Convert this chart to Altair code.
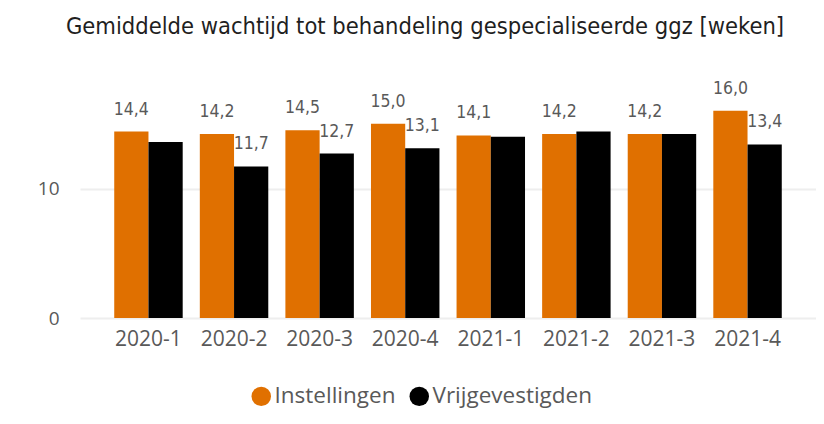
import altair as alt
import pandas as pd

periods = ["2020-1", "2020-2", "2020-3", "2020-4", "2021-1", "2021-2", "2021-3", "2021-4"]
instellingen = [14.4, 14.2, 14.5, 15.0, 14.1, 14.2, 14.2, 16.0]
vrijgevestigden = [13.6, 11.7, 12.7, 13.1, 14.0, 14.4, 14.2, 13.4]
show_instellingen = [True] * 8
show_vrijgevestigden = [False, True, True, True, False, False, False, True]
series_names = ["Instellingen", "Vrijgevestigden"]
series_colors = ["#E07000", "#000000"]

rows = []
for i, p in enumerate(periods):
    rows.append({"period": p, "series": series_names[0], "value": instellingen[i], "show": show_instellingen[i]})
    rows.append({"period": p, "series": series_names[1], "value": vrijgevestigden[i], "show": show_vrijgevestigden[i]})
df = pd.DataFrame(rows)

AX_FONT = "Open Sans"
LBL_FONT = "DejaVu Sans Condensed"
GRAY = "#595959"

base = alt.Chart(df).encode(
    x=alt.X(
        "period:N",
        sort=periods,
        title=None,
        scale=alt.Scale(paddingInner=0.2, paddingOuter=0.4),
        axis=alt.Axis(
            labelAngle=0, domain=False, ticks=False, labelPadding=10,
            labelFont=AX_FONT, labelFontSize=21, labelColor=GRAY,
        ),
    ),
    xOffset=alt.XOffset("series:N", sort=series_names, scale=alt.Scale(paddingInner=0, paddingOuter=0)),
)

bars = base.mark_bar().encode(
    y=alt.Y(
        "value:Q",
        title=None,
        scale=alt.Scale(domain=[0, 20]),
        axis=alt.Axis(
            values=[0, 10], domain=False, ticks=False, labelPadding=21,
            labelFont=AX_FONT, labelFontSize=19, labelColor=GRAY,
            gridColor="#eeeeee", gridWidth=2,
        ),
    ),
    color=alt.Color(
        "series:N",
        sort=series_names,
        scale=alt.Scale(domain=series_names, range=series_colors),
        legend=alt.Legend(
            title=None, orient="none", direction="horizontal",
            legendX=170, legendY=326,
            symbolType="circle", symbolSize=380, symbolStrokeWidth=0,
            labelFont=AX_FONT, labelFontSize=22.5, labelColor=GRAY,
            labelOffset=2, columnPadding=12, padding=0,
        ),
    ),
)

labels = base.transform_filter("datum.show").transform_calculate(
    lbl="replace(format(datum.value, '.1f'), '.', ',')"
).mark_text(
    baseline="middle", dy=-22, font=LBL_FONT, fontSize=17.5, color=GRAY
).encode(
    y="value:Q",
    text="lbl:N",
)

chart = (
    alt.layer(bars, labels)
    .properties(
        width=736,
        height=259,
        autosize=alt.AutoSizeParams(type="none"),
        padding={"left": 72, "top": 51, "right": 0, "bottom": 98},
        title=alt.TitleParams(
            "Gemiddelde wachtijd tot behandeling gespecialiseerde ggz [weken]",
            font=LBL_FONT, fontSize=23.5, fontWeight=500, color="#1f1f1f",
            anchor="middle", offset=21, dx=-23,
        ),
        background="white",
    )
    .configure_view(stroke=None)
)

chart.save("out.html", embed_options={"renderer": "svg", "actions": False})
